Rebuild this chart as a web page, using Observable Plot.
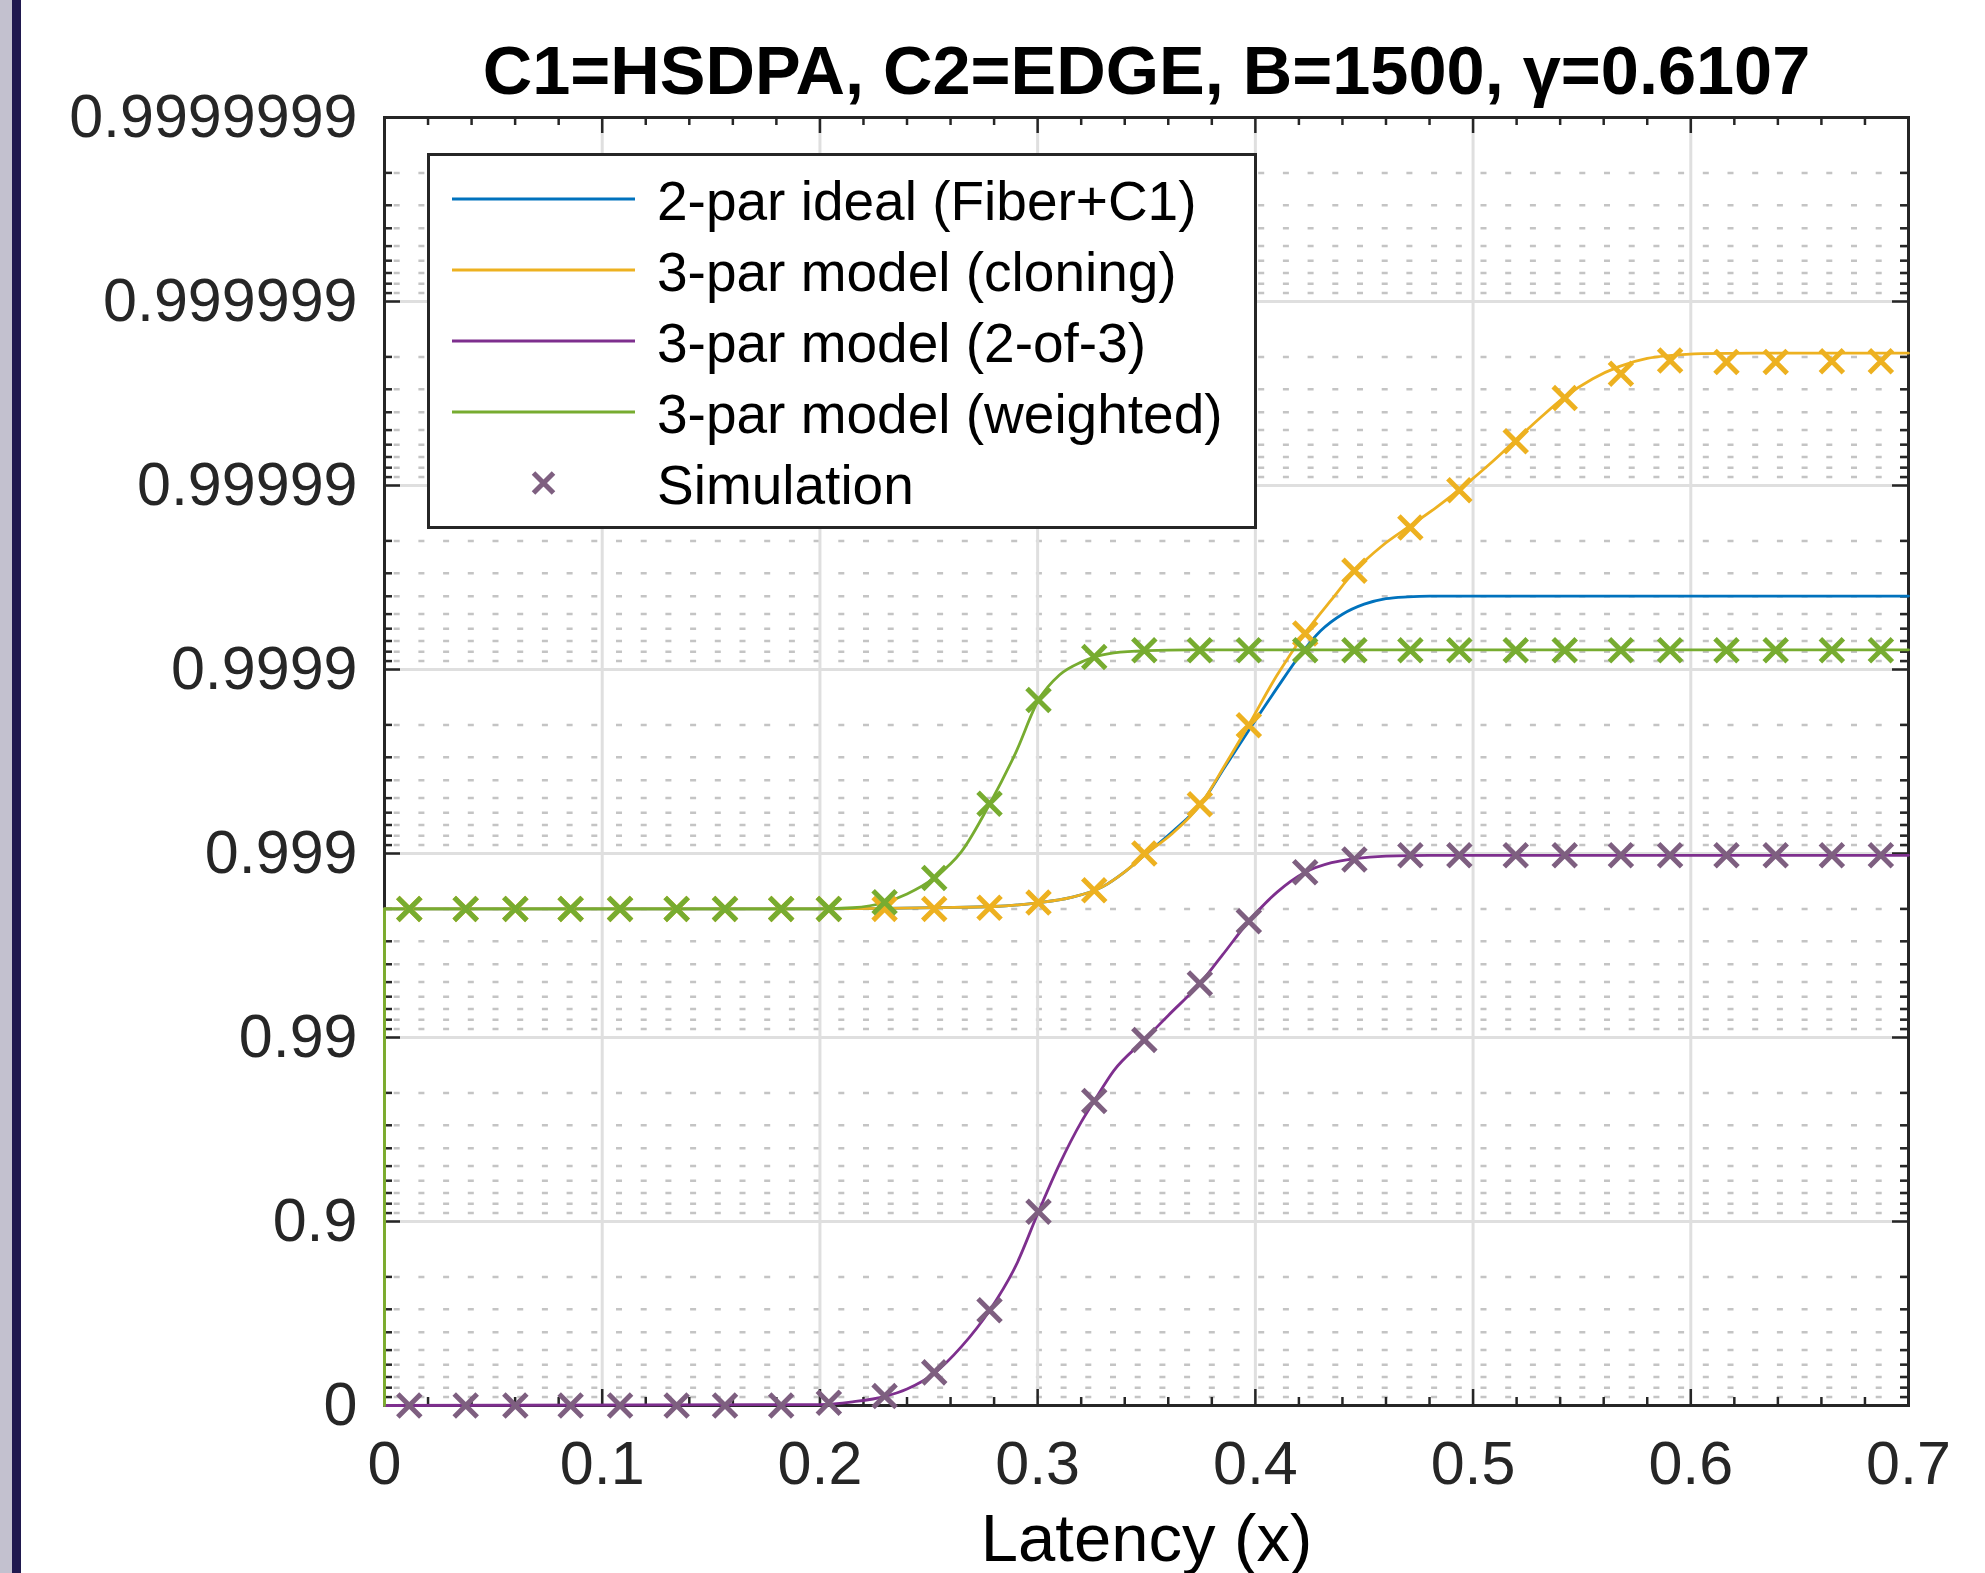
<!DOCTYPE html>
<html>
<head>
<meta charset="utf-8">
<script src="https://cdn.jsdelivr.net/npm/d3@7"></script>
<script src="https://cdn.jsdelivr.net/npm/@observablehq/plot@0.6"></script>
<style>
  html, body { margin: 0; padding: 0; background: #ffffff; }
  #fig { position: relative; width: 1985px; height: 1573px; overflow: hidden; background: #ffffff;
         font-family: "Liberation Sans", Arial, Helvetica, sans-serif; }
  #fig > svg.plot { position: absolute; left: 0; top: 0; }
  #strip1 { position: absolute; left: 0; top: 0; width: 12px; height: 1573px; background: #c3c1cf; }
  #strip2 { position: absolute; left: 12px; top: 0; width: 9px; height: 1573px; background: #20194f; }
  #legend { position: absolute; left: 427px; top: 153px; }
</style>
</head>
<body>
<div id="fig"><div id="strip1"></div><div id="strip2"></div></div>
<script>
// ---------------- data (probabilities) ----------------
const titleText = "C1=HSDPA, C2=EDGE, B=1500, \u03B3=0.6107";
const xLabel = "Latency (x)";
const xTickValues = [0, 0.1, 0.2, 0.3, 0.4, 0.5, 0.6, 0.7];
const xTickLabels = ["0", "0.1", "0.2", "0.3", "0.4", "0.5", "0.6", "0.7"];
const yTickProbs  = [0, 0.9, 0.99, 0.999, 0.9999, 0.99999, 0.999999, 0.9999999];
const yTickLabels = ["0", "0.9", "0.99", "0.999", "0.9999", "0.99999", "0.999999", "0.9999999"];

const seriesNames = ["2-par ideal (Fiber+C1)", "3-par model (cloning)", "3-par model (2-of-3)", "3-par model (weighted)", "Simulation"];
const seriesColors = ["#0072BD", "#EDB120", "#7E2F8E", "#77AC30", "#7E5F80"];

// 2-par ideal (Fiber+C1)
const idealX = [0, 0, 0.2, 0.23, 0.255, 0.28, 0.30, 0.315, 0.33, 0.34, 0.35, 0.362, 0.375, 0.386, 0.397, 0.41, 0.42, 0.43, 0.44, 0.45, 0.46, 0.47, 0.48, 0.7];
const idealP = [0, 0.998, 0.998, 0.998014, 0.998032, 0.998059, 0.998147, 0.998262, 0.998486, 0.998741, 0.999, 0.99924142, 0.99946297, 0.99966116, 0.99978620, 0.99987411, 0.99991489, 0.99993834, 0.99994988, 0.99995584, 0.99995879, 0.99995973, 0.99996010, 0.99996010];

// 3-par model (cloning)
const cloningX = [0, 0, 0.2, 0.23, 0.255, 0.28, 0.30, 0.315, 0.33, 0.34, 0.35, 0.362, 0.375, 0.386, 0.397, 0.41, 0.423, 0.435, 0.446, 0.458, 0.471, 0.483, 0.494, 0.507, 0.52, 0.531, 0.542, 0.555, 0.567, 0.58, 0.59, 0.605, 0.63, 0.7];
const cloningP = [0, 0.998, 0.998, 0.998014, 0.998032, 0.998059, 0.998147, 0.998262, 0.998486, 0.998741, 0.999, 0.99922375, 0.99946297, 0.99966887, 0.99980047, 0.99989285, 0.99993690, 0.99995830, 0.99997116, 0.99997862, 0.99998340, 0.99998682, 0.99998953, 0.99999224, 0.99999438, 0.99999573, 0.99999669, 0.99999737, 0.99999774, 0.99999796, 0.99999803, 0.99999808, 0.99999809, 0.99999809];

// 3-par model (2-of-3)
const twoOfThreeX = [0, 0.2, 0.215, 0.23, 0.24, 0.2525, 0.265, 0.278, 0.29, 0.3004, 0.31, 0.32, 0.326, 0.335, 0.349, 0.36, 0.3745, 0.385, 0.397, 0.41, 0.4229, 0.435, 0.4455, 0.46, 0.48, 0.7];
const twoOfThreeP = [0, 0.01145, 0.04501, 0.10875, 0.18717, 0.33166, 0.52137, 0.69661, 0.82622, 0.911488, 0.951020, 0.97116, 0.977869, 0.984864, 0.989696, 0.9924142, 0.9949067, 0.9964519, 0.9976665, 0.9983782, 0.9987353, 0.9988780, 0.9989334, 0.9989672, 0.9989767, 0.9989767];

// 3-par model (weighted)
const weightedX = [0, 0, 0.2, 0.215, 0.23, 0.24, 0.2525, 0.265, 0.278, 0.29, 0.3004, 0.31, 0.32, 0.326, 0.335, 0.35, 0.37, 0.7];
const weightedP = [0, 0.998, 0.998, 0.998028, 0.998159, 0.998340, 0.9986417, 0.99902276, 0.99946297, 0.99971816, 0.99985345, 0.99989285, 0.99990880, 0.99991449, 0.99991872, 0.99992111, 0.99992184, 0.99992184];

// Simulation points
const simX = [0.0114, 0.0373, 0.0601, 0.0855, 0.1082, 0.1342, 0.1564, 0.1822, 0.2041, 0.2297, 0.2525, 0.2779, 0.3004, 0.3260, 0.3490, 0.3745, 0.3970, 0.4229, 0.4455, 0.4712, 0.4937, 0.5196, 0.5421, 0.5679, 0.5905, 0.6164, 0.6390, 0.6648, 0.6873];
const simCloningP = [0.998, 0.998, 0.998, 0.998, 0.998, 0.998, 0.998, 0.998, 0.998, 0.998, 0.998, 0.998028, 0.998151, 0.998415, 0.999, 0.99946, 0.9997991, 0.9999363, 0.99997096, 0.9999831, 0.99998938, 0.99999425, 0.99999665, 0.99999753, 0.99999791, 0.99999787, 0.99999787, 0.99999789, 0.99999789];
const simTwoOfThreeP = [0, 0, 0, 0, 0, 0, 0, 0, 0.03395, 0.11080, 0.33931, 0.69661, 0.911488, 0.977869, 0.989696, 0.9949067, 0.9976665, 0.9987353, 0.9989211, 0.9989767, 0.9989767, 0.9989767, 0.9989767, 0.9989767, 0.9989767, 0.9989767, 0.9989767, 0.9989767, 0.9989767];
const simWeightedP = [0.998, 0.998, 0.998, 0.998, 0.998, 0.998, 0.998, 0.998, 0.998, 0.998159, 0.998642, 0.999463, 0.9998535, 0.9999145, 0.9999215, 0.9999215, 0.9999215, 0.9999215, 0.9999215, 0.9999215, 0.9999215, 0.9999215, 0.9999215, 0.9999215, 0.9999215, 0.9999215, 0.9999215, 0.9999215, 0.9999215];

// ---------------- layout ----------------
const W = 1985, H = 1573, ML = 384, MR = 77, MT = 117, MB = 168;
const PW = W - ML - MR, PH = H - MT - MB;
const FONT = "'Liberation Sans', Arial, Helvetica, sans-serif";
const AXC = "#262626";

const nines = p => -Math.log10(1 - p);          // "number of nines" scale
const rows = (xs, ps) => xs.map((x, i) => ({x, p: ps[i]}));

const yMajor = yTickProbs.map(nines).map(v => Math.round(v));
const yMinor = [];
for (let d = 0; d < 7; d++) for (let k = 2; k <= 9; k++) yMinor.push(d + 1 - Math.log10(k));
const xMinor = d3.range(1, 35).map(i => i * 0.02).filter(v => Math.abs(v * 10 - Math.round(v * 10)) > 1e-6);

const tickStyle = {stroke: AXC, strokeWidth: 2.5};
const MR_R = 10.5, MR_SW = 5;

const chart = Plot.plot({
  width: W, height: H,
  marginLeft: ML, marginRight: MR, marginTop: MT, marginBottom: MB,
  x: {domain: [0, 0.7]},
  y: {domain: [0, 7]},
  style: {fontFamily: FONT, fontSize: "61px", color: AXC, background: "transparent", overflow: "visible"},
  marks: [
    // grid
    Plot.ruleY(yMinor, {y: d => d, stroke: "#c4c4c4", strokeWidth: 2.5, strokeDasharray: "6,18.7", strokeDashoffset: 15}),
    Plot.ruleX(xTickValues.slice(1, -1), {x: d => d, stroke: "#dfdfdf", strokeWidth: 3}),
    Plot.ruleY(yMajor.slice(1, -1), {y: d => d, stroke: "#dfdfdf", strokeWidth: 3}),
    // box
    Plot.frame({stroke: AXC, strokeWidth: 3}),
    // inward ticks: left / right
    Plot.tickY(yMajor, {y: d => d, insetRight: PW - 16, ...tickStyle}),
    Plot.tickY(yMinor, {y: d => d, insetRight: PW - 8, ...tickStyle}),
    Plot.tickY(yMajor, {y: d => d, insetLeft: PW - 16, ...tickStyle}),
    Plot.tickY(yMinor, {y: d => d, insetLeft: PW - 8, ...tickStyle}),
    // inward ticks: bottom / top
    Plot.tickX(xTickValues, {x: d => d, insetTop: PH - 16, ...tickStyle}),
    Plot.tickX(xMinor, {x: d => d, insetTop: PH - 8, ...tickStyle}),
    Plot.tickX(xTickValues, {x: d => d, insetBottom: PH - 16, ...tickStyle}),
    Plot.tickX(xMinor, {x: d => d, insetBottom: PH - 8, ...tickStyle}),
    // tick labels
    Plot.axisX(xTickValues, {tickSize: 0, tickPadding: 35, fontSize: 61, fill: AXC, label: null,
      tickFormat: d => xTickLabels[Math.round(d * 10)]}),
    Plot.axisY(yMajor, {tickSize: 0, tickPadding: 27, fontSize: 61, fill: AXC, label: null,
      tickFormat: d => yTickLabels[d]}),
    // model curves
    Plot.line(rows(idealX, idealP), {x: "x", y: d => nines(d.p), stroke: seriesColors[0], strokeWidth: 2.8, curve: "monotone-x"}),
    Plot.line(rows(cloningX, cloningP), {x: "x", y: d => nines(d.p), stroke: seriesColors[1], strokeWidth: 2.8, curve: "monotone-x"}),
    Plot.line(rows(twoOfThreeX, twoOfThreeP), {x: "x", y: d => nines(d.p), stroke: seriesColors[2], strokeWidth: 2.8, curve: "monotone-x"}),
    Plot.line(rows(weightedX, weightedP), {x: "x", y: d => nines(d.p), stroke: seriesColors[3], strokeWidth: 2.8, curve: "monotone-x"}),
    // simulation markers
    Plot.dot(rows(simX, simTwoOfThreeP), {x: "x", y: d => nines(d.p), symbol: "times", r: MR_R, stroke: seriesColors[4], strokeWidth: MR_SW}),
    Plot.dot(rows(simX, simCloningP), {x: "x", y: d => nines(d.p), symbol: "times", r: MR_R, stroke: seriesColors[1], strokeWidth: MR_SW}),
    Plot.dot(rows(simX, simWeightedP), {x: "x", y: d => nines(d.p), symbol: "times", r: MR_R, stroke: seriesColors[3], strokeWidth: MR_SW}),
    // title and axis label
    Plot.text([titleText], {text: d => d, frameAnchor: "top", lineAnchor: "bottom", dy: -24,
      fontSize: 68.5, fontWeight: "bold", fill: "#000000"}),
    Plot.text([xLabel], {text: d => d, frameAnchor: "bottom", lineAnchor: "bottom", dy: 155,
      fontSize: 67, fill: "#000000"})
  ]
});
chart.classList.add("plot");
const fig = document.getElementById("fig");
fig.insertBefore(chart, fig.firstChild);

// ---------------- legend ----------------
const LW = 830, LH = 376, rowGap = 71, row0 = 46;
const leg = d3.create("svg").attr("id", "legend").attr("width", LW).attr("height", LH)
  .attr("font-family", FONT);
leg.append("rect").attr("x", 1.5).attr("y", 1.5).attr("width", LW - 3).attr("height", LH - 3)
  .attr("fill", "#ffffff").attr("stroke", AXC).attr("stroke-width", 3);
seriesNames.forEach((name, i) => {
  const y = row0 + i * rowGap;
  if (i < 4) {
    leg.append("line").attr("x1", 25).attr("x2", 208).attr("y1", y).attr("y2", y)
      .attr("stroke", seriesColors[i]).attr("stroke-width", 3);
  } else {
    const r = 10;
    leg.append("path").attr("d", `M${116.5 - r},${y - r}L${116.5 + r},${y + r}M${116.5 - r},${y + r}L${116.5 + r},${y - r}`)
      .attr("stroke", seriesColors[4]).attr("stroke-width", 5).attr("fill", "none");
  }
  leg.append("text").attr("x", 230).attr("y", y + 21).attr("font-size", 55).attr("fill", "#000000").text(name);
});
fig.appendChild(leg.node());
</script>
</body>
</html>
